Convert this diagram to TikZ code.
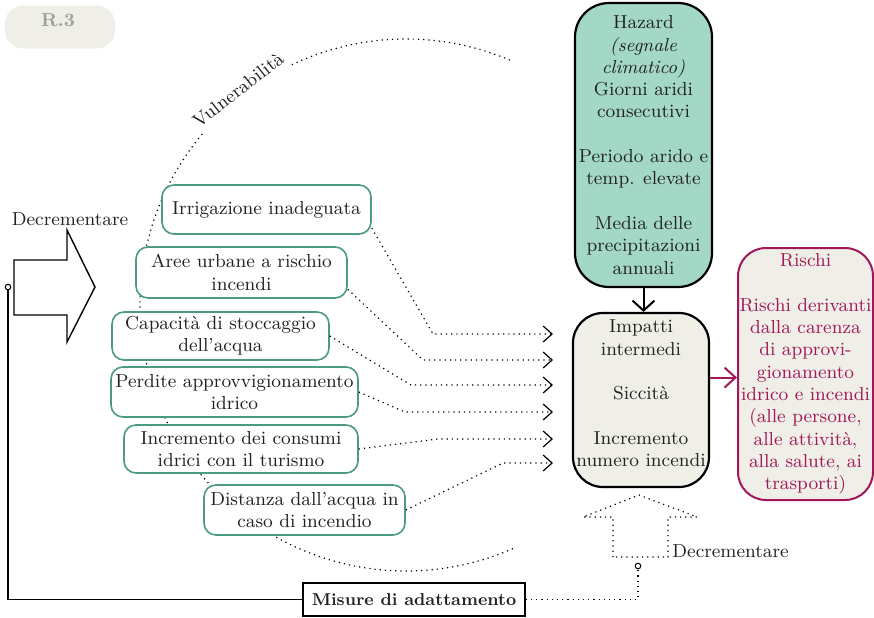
\documentclass[tikz,border=0pt]{standalone}
\usetikzlibrary{arrows.meta}
\definecolor{tealfill}{HTML}{A4D8C6}
\definecolor{beige}{HTML}{F0EFE7}
\definecolor{greenb}{HTML}{4C9A80}
\definecolor{crimson}{HTML}{A0185A}
\definecolor{txt}{HTML}{222222}
\definecolor{rgray}{HTML}{A0A09A}
\begin{document}
\begin{tikzpicture}[x=0.5pt,y=-0.5pt,
  every node/.style={font=\fontsize{9.4}{11.15}\selectfont, text=txt, inner sep=0pt},
  gbox/.style={draw=greenb, line width=0.8pt, fill=white, rounded corners=6pt, align=center},
  dots/.style={dotted, line width=0.6pt},
  barb/.style={-{Straight Barb[length=4.5pt,width=8pt,line width=0.6pt]}},
  ring/.style={circle, draw, line width=0.5pt, minimum size=2.8pt, fill=white},
]
\useasboundingbox (0,0) rectangle (874,617);

% R.3 label
\node[fill=beige, rounded corners=9pt, minimum width=55pt, minimum height=21.5pt] (r3box) at (60,27) {};
\node[text=rgray, font=\fontsize{9.4}{11}\selectfont\bfseries] (r3) at (58,20) {R.3};

% vulnerability arc
\draw[dots] (406,305) ++(-67:266) arc[start angle=-67, end angle=-116, radius=266];
\draw[dots] (406,305) ++(-140:266) arc[start angle=-140, end angle=-294, radius=266];
\node[anchor=base, rotate=38] (vul) at (242,95) {Vulnerabilità};

% green boxes
\node[gbox, minimum width=104.5pt, minimum height=24.5pt] (irr) at (266.5,209.5) {Irrigazione inadeguata};
\node[gbox, minimum width=105.5pt, minimum height=25.5pt] (aree) at (241.5,272.5) {Aree urbane a rischio\\incendi};
\node[gbox, minimum width=108.5pt, minimum height=24pt] (cap) at (220.5,336) {Capacità di stoccaggio\\dell’acqua};
\node[gbox, minimum width=123.5pt, minimum height=25pt] (perd) at (234.5,392) {Perdite approvvigionamento\\idrico};
\node[gbox, minimum width=117pt, minimum height=24pt] (incr) at (241,449) {Incremento dei consumi\\idrici con il turismo};
\node[gbox, minimum width=100.5pt, minimum height=25pt] (dist) at (304.5,510) {Distanza dall’acqua in\\caso di incendio};

% hazard
\node[draw, fill=tealfill, line width=1.1pt, rounded corners=17pt, minimum width=68.5pt, minimum height=142pt, align=center] (haz) at (643.5,145)
 {Hazard\\\textit{(segnale}\\\textit{climatico)}\\Giorni aridi\\consecutivi\\[11.15pt]Periodo arido e\\temp. elevate\\[11.15pt]Media delle\\precipitazioni\\annuali};

% impatti
\node[draw, fill=beige, line width=1.1pt, rounded corners=15pt, minimum width=68pt, minimum height=87pt] (impbox) at (641,400) {};
\node[align=center] (imp) at (641,393.5) {Impatti\\intermedi\\[11.15pt]Siccità\\[11.15pt]Incremento\\numero incendi};

% rischi
\node[draw=crimson, fill=beige, line width=1pt, rounded corners=14pt, minimum width=67.5pt, minimum height=126pt, align=center, text=crimson] (ris) at (805.5,374)
 {Rischi\\[11.15pt]Rischi derivanti\\dalla carenza\\di approvi-\\gionamento\\idrico e incendi\\(alle persone,\\alle attività,\\alla salute, ai\\trasporti)};

% misure
\node[draw, line width=0.8pt, minimum width=111pt, minimum height=16.5pt, font=\fontsize{8.6}{10}\selectfont\bfseries] (misure) at (414,599.5) {Misure di adattamento};

% main arrows
\draw[line width=1pt, -{Straight Barb[length=5pt,width=11pt]}] (haz.south) -- (haz.south |- impbox.north);
\draw[crimson, line width=1pt, -{Straight Barb[length=5.5pt,width=10pt]}] (impbox.18) -- (impbox.18 -| ris.west);

% dotted connectors
\coordinate (t1) at (553,334);
\coordinate (t2) at (553,360);
\coordinate (t3) at (553,385);
\coordinate (t4) at (553,412);
\coordinate (t5) at (553,439);
\coordinate (t6) at (553,463);
\draw[dots,barb] (irr.-10) -- (433,334) -- (t1);
\draw[dots,barb] (aree.-9) -- (423,360) -- (t2);
\draw[dots,barb] (cap.east) -- (411,385) -- (t3);
\draw[dots,barb] (perd.east) -- (405,412) -- (t4);
\draw[dots,barb] (incr.east) -- (438,439) -- (t5);
\draw[dots,barb] (dist.east) -- (503,463) -- (t6);

% left hollow arrow
\node (dec1) at (70,219) {Decrementare};
\draw[line width=0.7pt] (14,260) -- (67,260) -- (67,230) -- (95,287) -- (67,342) -- (67,315) -- (14,315) -- cycle;
\node[ring] (c1) at (8,287) {};
\draw[line width=0.7pt] (c1.south) |- (misure.west);

% bottom dotted hollow arrow
\draw[dots] (613,557) -- (613,517) -- (583,517) -- (639,495) -- (697,517) -- (668,517) -- (668,557) -- cycle;
\node[anchor=west] (dec2) at (672,551) {Decrementare};
\node[ring] (c2) at (638,566) {};
\draw[dots] (misure.east) -| (c2.south);
\end{tikzpicture}
\end{document}
